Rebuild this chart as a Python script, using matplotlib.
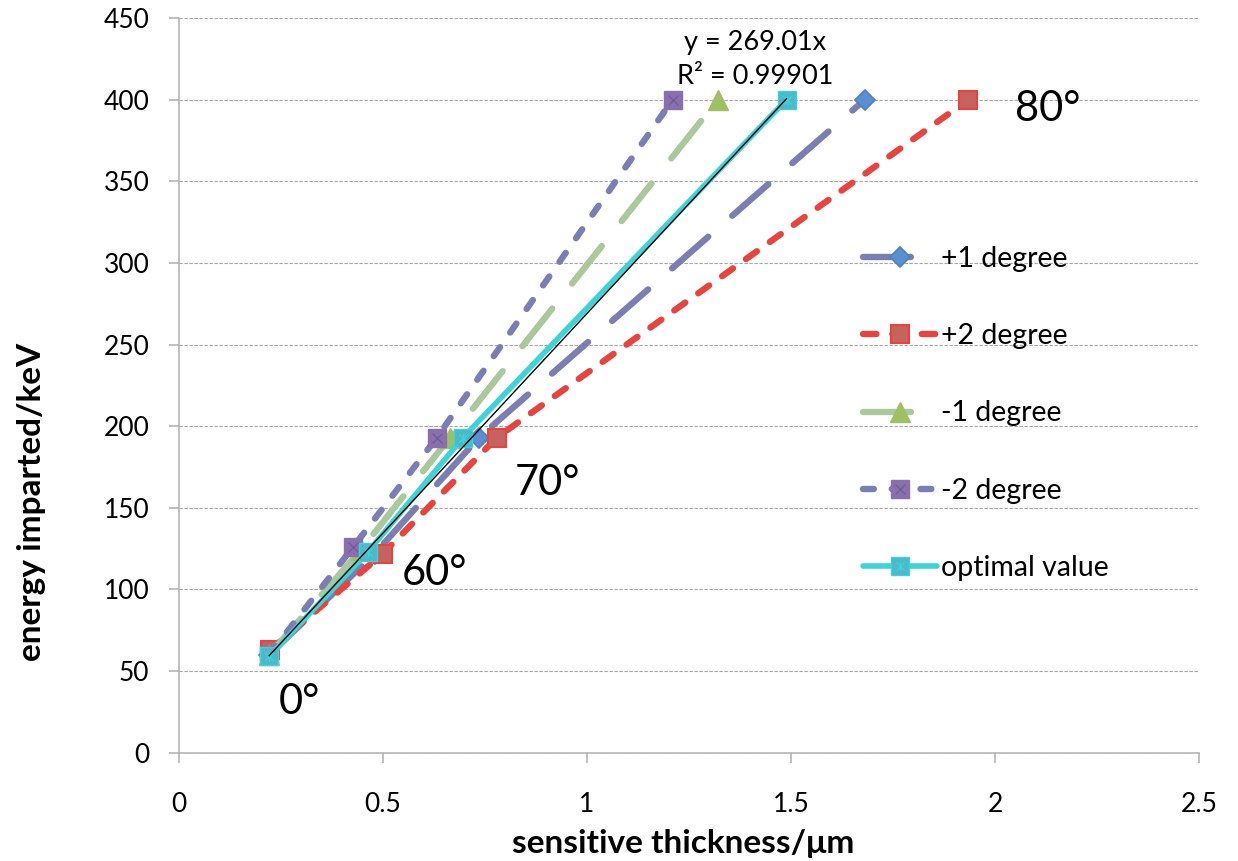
import numpy as np
import matplotlib
matplotlib.use("Agg")
import matplotlib.pyplot as plt
from matplotlib.path import Path

plt.rcParams["font.family"] = ["Lato", "DejaVu Sans"]

# sensitive thickness (um) and energy imparted (keV) at 0, 60, 70, 80 degrees
angle_labels = ["0°", "60°", "70°", "80°"]

x_plus1 = [0.221, 0.480, 0.735, 1.681]
y_plus1 = [60, 122, 193, 400]

x_plus2 = [0.224, 0.500, 0.779, 1.935]
y_plus2 = [63, 122, 193, 400]

x_minus1 = [0.221, 0.445, 0.664, 1.321]
y_minus1 = [60, 124, 193, 400]

x_minus2 = [0.221, 0.427, 0.632, 1.210]
y_minus2 = [60, 126, 193, 400]

x_opt = [0.221, 0.463, 0.696, 1.489]
y_opt = [59, 123, 193, 400]

SLOPE = 269.01
R2 = 0.99901

# where the angle annotations sit (data coords, left/baseline)
angle_pos = [(0.245, 24), (0.547, 103), (0.824, 158), (2.049, 387)]

fig = plt.figure(figsize=(12.38, 8.61), dpi=100)
ax = fig.add_axes([179 / 1238, 1 - 752.7 / 861, 1020 / 1238, 734.7 / 861])

lw = 4.6
cross = Path([(-1, -1), (1, 1), (-1, 1), (1, -1)],
             [Path.MOVETO, Path.LINETO, Path.MOVETO, Path.LINETO])
star = Path([(-1, -1), (1, 1), (-1, 1), (1, -1), (0, -1.2), (0, 1.2)],
            [Path.MOVETO, Path.LINETO, Path.MOVETO, Path.LINETO,
             Path.MOVETO, Path.LINETO])

h1, = ax.plot(x_plus1, y_plus1, color="#7a7eb0", lw=lw, dashes=(7.5, 5),
              dash_capstyle="round", marker="D", ms=10,
              mfc="#5b8fd2", mec="#4f7fc0", mew=1.2, zorder=3)
h2, = ax.plot(x_plus2, y_plus2, color="#e8433f", lw=lw, dashes=(2.1, 2.5),
              dash_capstyle="round", marker="s", ms=13,
              mfc="#c8625c", mec="#e8433f", mew=1.5, zorder=4)
h3, = ax.plot(x_minus1, y_minus1, color="#abc79e", lw=lw, dashes=(7.5, 5),
              dash_capstyle="round", marker="^", ms=15,
              mfc="#9fbf63", mec="#9fbf63", mew=1, zorder=5)
h4, = ax.plot(x_minus2, y_minus2, color="#7a7eb0", lw=lw, dashes=(1.7, 2.8),
              dash_capstyle="round", marker="s", ms=13.5,
              mfc="#8a6fae", mec="#8a6fae", mew=1, zorder=6)
h4x, = ax.plot(x_minus2, y_minus2, ls="none", marker=cross, ms=7,
               mec="#6f5c99", mew=1, zorder=6.1)
h5, = ax.plot(x_opt, y_opt, color="#3ed4d6", lw=4.0, solid_capstyle="round",
              marker="s", ms=13.5, mfc="#4cb8cc", mec="#3ed4d6", mew=1, zorder=7)
h5x, = ax.plot(x_opt, y_opt, ls="none", marker=star, ms=7,
               mec="#3ed4d6", mew=1, zorder=7.1)

# linear trendline through the origin for the optimal series
xt = np.array([min(x_opt), max(x_opt)])
ax.plot(xt, SLOPE * xt, color="black", lw=1.0, zorder=8)
ax.text(1.412, 435, f"y = {SLOPE}x", ha="center", va="center", fontsize=19.5)
ax.text(1.412, 414, f"R² = {R2}", ha="center", va="center", fontsize=19.5)

for lab, (tx, ty) in zip(angle_labels, angle_pos):
    ax.text(tx, ty, lab, ha="left", va="baseline", fontsize=30)

ax.set_xlim(0, 2.5)
ax.set_ylim(0, 450)
ax.set_xticks(np.arange(0, 2.51, 0.5))
ax.set_xticklabels(["0", "0.5", "1", "1.5", "2", "2.5"])
ax.set_yticks(np.arange(0, 451, 50))
ax.yaxis.grid(True, color="#a6a6a6", lw=0.8, ls=(0, (3, 1.5)))
ax.set_axisbelow(True)
for s in ["top", "right"]:
    ax.spines[s].set_visible(False)
for s in ["left", "bottom"]:
    ax.spines[s].set_color("#b0b0b0")
    ax.spines[s].set_linewidth(1.1)
ax.tick_params(axis="both", direction="out", length=7.2, width=1.1,
               color="#b0b0b0", labelsize=19)
ax.tick_params(axis="x", pad=21)
ax.tick_params(axis="y", pad=14)

fig.text(32 / 1238, 1 - 502 / 861, "energy imparted/keV", rotation=90,
         ha="center", va="center", fontsize=24, fontweight="bold")
fig.text(683 / 1238, 1 - 843 / 861, "sensitive thickness/μm",
         ha="center", va="center", fontsize=24, fontweight="bold")

ax.legend([h1, h2, h3, (h4, h4x), (h5, h5x)],
          ["+1 degree", "+2 degree", "-1 degree", "-2 degree", "optimal value"],
          loc="upper left", bbox_to_anchor=(863 / 1238, 1 - 246 / 861),
          bbox_transform=fig.transFigure, frameon=False, fontsize=20.5,
          numpoints=1, handlelength=2.6, handletextpad=0.15,
          labelspacing=1.8, borderpad=0, borderaxespad=0)

fig.savefig("out.png", dpi=100)
